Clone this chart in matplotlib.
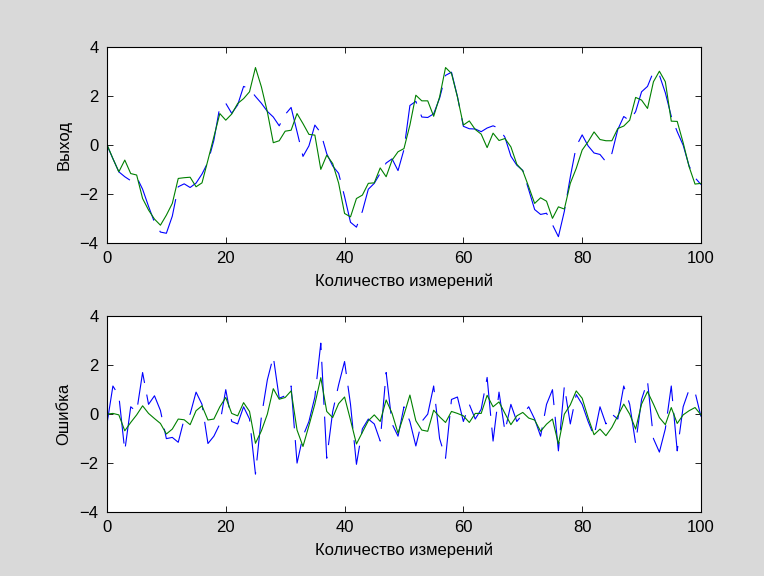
import numpy as np
from matplotlib import pyplot as plt

plt.rcParams.update({'font.family': ['Liberation Sans', 'DejaVu Sans']})
plt.rcParams.update({'font.size': 12})
plt.rcParams.update({'lines.scale_dashes': False})

# measurement index
n = np.arange(101)

# top panel: target (blue dashed) and network output (green)
target = [0.0, -0.55, -1.09, -1.29, -1.45, -1.3, -1.8, -2.5, -3.15, -3.55,
          -3.6, -2.9, -1.7, -1.58, -1.73, -1.55, -1.18, -0.7, 0.2, 1.57,
          1.71, 1.3, 1.64, 2.4, 2.3, 1.99, 1.71, 1.38, 1.15, 0.79,
          1.25, 1.54, 0.55, -0.46, -0.03, 0.82, 0.5, -0.35, -0.85, -1.15,
          -2.1, -3.15, -3.35, -2.7, -1.8, -1.56, -1.15, -0.73, -0.56, -1.04,
          -0.18, 1.62, 1.79, 1.15, 1.13, 1.28, 1.92, 2.85, 2.98, 1.99,
          0.77, 0.67, 0.66, 0.55, 0.7, 0.79, 0.69, 0.32, -0.45, -0.82,
          -1.03, -1.82, -2.63, -2.83, -2.78, -3.25, -3.74, -2.7, -1.3, -0.05,
          0.42, -0.03, -0.32, -0.38, -0.68, -0.34, 0.64, 1.17, 1.0, 1.37,
          2.18, 2.4, 3.0, 2.86, 2.14, 1.18, 0.55, 0.0, -0.85, -1.33, -1.61]
output = [0.03, -0.55, -1.09, -0.61, -1.16, -1.22, -2.18, -2.65, -3.02, -3.27,
          -2.86, -2.38, -1.36, -1.33, -1.31, -1.7, -1.54, -0.61, 0.34, 1.29,
          1.02, 1.27, 1.7, 1.9, 2.18, 3.17, 2.38, 1.36, 0.1, 0.18,
          0.57, 0.61, 1.29, 0.88, 0.44, 0.41, -0.99, -0.41, -0.75, -1.55,
          -2.79, -2.93, -2.18, -2.04, -1.56, -1.54, -0.93, -1.29, -0.61, -0.27,
          -0.14, 0.82, 2.04, 1.81, 1.81, 1.18, 1.97, 3.17, 2.93, 1.97,
          0.82, 0.99, 0.64, 0.45, -0.1, 0.49, 0.19, 0.27, -0.07, -0.78,
          -1.05, -1.7, -2.38, -2.15, -2.29, -2.99, -2.52, -2.61, -1.56, -0.95,
          -0.2, 0.14, 0.54, 0.23, 0.18, 0.18, 0.68, 0.78, 1.02, 1.95,
          1.84, 1.5, 2.59, 3.02, 2.59, 0.98, 0.97, 0.1, -0.88, -1.59, -1.56]

# bottom panel: noise (blue dashed) and error (green)
noise = [-0.4, 1.15, 0.75, -1.5, 0.3, 0.1, 1.7, 0.4, 0.75, 0.15,
         -1.0, -0.95, -1.15, -0.2, 0.0, 0.9, 0.4, -1.2, -0.9, -0.4,
         1.0, -0.3, -0.4, 0.3, -0.2, -2.45, -0.1, 1.4, 2.35, 0.65,
         0.75, 1.15, -2.0, -0.9, -0.3, 0.7, 2.9, -1.8, 0.1, 1.2,
         2.15, 0.4, -2.05, -0.6, -0.2, -0.4, -1.1, 1.7, -0.4, -0.9,
         0.3, -0.3, -1.3, -0.3, 0.0, 1.15, -1.0, -1.8, 0.6, 0.7,
         -0.3, 0.4, -0.2, 0.2, 1.5, -1.1, 0.9, -0.7, 0.4, -0.3,
         0.0, 0.3, -0.2, -0.9, 0.4, 1.0, -1.5, 1.15, -0.4, 0.8,
         0.4, -0.3, -0.9, 0.3, -0.4, 0.0, -0.2, 1.15, 0.4, -1.2,
         0.6, 1.35, -1.0, -1.55, -0.6, 1.15, -1.5, 0.3, 1.0, 0.9, -0.1]
error = [0.0, 0.03, -0.03, -0.68, -0.34, -0.03, 0.34, 0.03, -0.18, -0.38,
         -0.81, -0.61, -0.2, -0.23, -0.43, 0.14, 0.34, -0.24, -0.2, 0.3,
         0.68, 0.03, -0.07, 0.47, 0.11, -1.19, -0.68, 0.0, 1.04, 0.61,
         0.68, 0.95, -0.65, -1.32, -0.47, 0.41, 1.49, 0.11, -0.14, 0.43,
         0.7, -0.24, -1.22, -0.74, -0.27, -0.03, -0.3, 0.58, 0.03, -0.78,
         -0.03, 0.78, -0.27, -0.65, -0.7, 0.16, -0.11, -0.34, 0.11, 0.03,
         -0.07, -0.34, 0.03, 0.03, 0.77, 0.3, 0.5, 0.03, -0.43, -0.07,
         0.07, -0.16, -0.24, -0.7, -0.41, -0.2, -1.22, 0.0, 0.38, 0.95,
         0.65, -0.14, -0.84, -0.61, -0.88, -0.54, -0.07, 0.41, 0.0, -0.61,
         0.41, 0.92, 0.41, -0.14, -0.43, 0.27, -0.38, -0.03, 0.14, 0.27, -0.03]

xticks = [0, 20, 40, 60, 80, 100]
yticks = [-4, -2, 0, 2, 4]
dash = (0, (31, 8.5))

fig = plt.figure(figsize=(7.64, 5.76), dpi=100, facecolor='#d9d9d9')
ax1 = fig.add_axes([0.140, 0.578, 0.7775, 0.340])
ax2 = fig.add_axes([0.140, 0.111, 0.7775, 0.340])

ax1.plot(n, target, color='blue', linewidth=0.8, linestyle=dash)
ax1.plot(n, output, color='green', linewidth=0.8)
ax1.set_ylabel('Выход', labelpad=6)

ax2.plot(n, noise, color='blue', linewidth=0.8, linestyle=dash)
ax2.plot(n, error, color='green', linewidth=0.8)
ax2.set_ylabel('Ошибка', labelpad=6)

for ax in (ax1, ax2):
    ax.set_xlim(0, 100)
    ax.set_ylim(-4, 4)
    ax.set_xticks(xticks)
    ax.set_yticks(yticks)
    ax.set_xlabel('Количество измерений', labelpad=5)
    ax.tick_params(direction='in', length=4.5, width=0.6, top=True, right=True,
                   labelsize=12, pad=6)
    for sp in ax.spines.values():
        sp.set_linewidth(0.8)
    ax.set_facecolor('white')

plt.savefig("out.png", facecolor=fig.get_facecolor())
